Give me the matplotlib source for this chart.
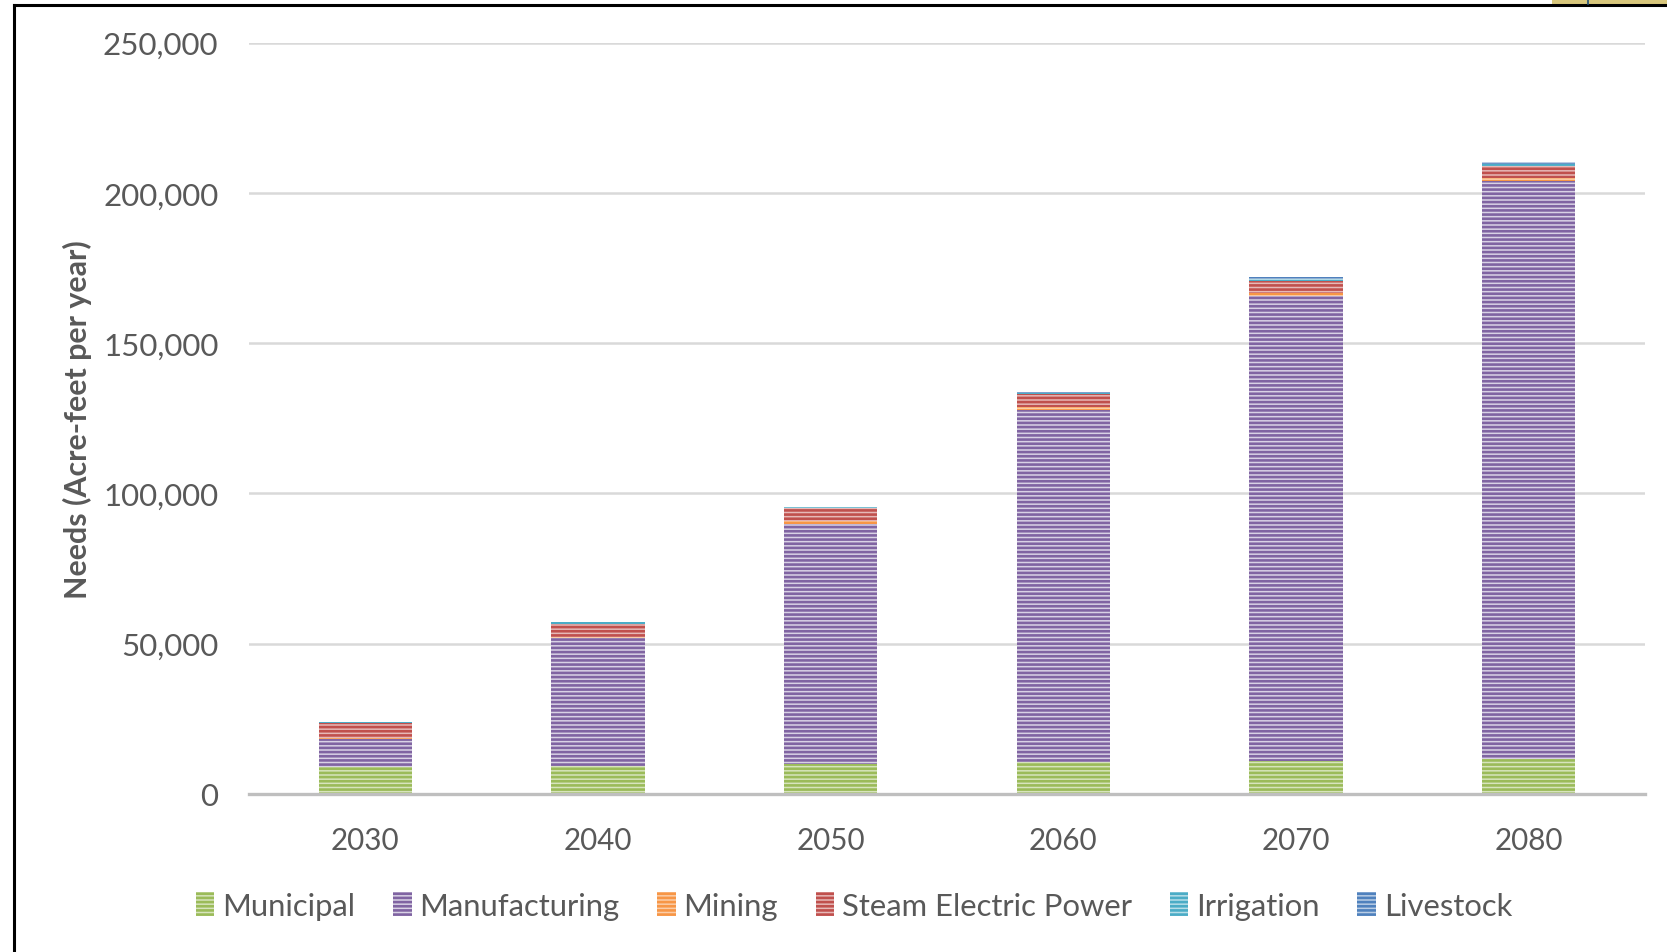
import matplotlib
matplotlib.use("Agg")
import matplotlib.pyplot as plt
from matplotlib.patches import Rectangle
from matplotlib.lines import Line2D
import numpy as np

years = ["2030", "2040", "2050", "2060", "2070", "2080"]
municipal = [9100, 9400, 9950, 10600, 10940, 11490]
manufacturing = [9300, 42600, 79780, 117260, 154640, 192360]
mining = [300, 400, 1000, 800, 1100, 1100]
steam_electric = [4800, 4300, 4300, 4430, 4100, 4100]
irrigation = [350, 500, 550, 300, 600, 500]
livestock = [50, 100, 50, 260, 500, 600]

series_names = ["Municipal", "Manufacturing", "Mining", "Steam Electric Power",
                "Irrigation", "Livestock"]
series_values = [municipal, manufacturing, mining, steam_electric, irrigation, livestock]
dark_colors = ["#9BBB59", "#8064A2", "#F79646", "#C0504D", "#4BACC6", "#4F81BD"]
light_colors = ["#D7E4BD", "#D9D2E5", "#FBCDA8", "#E6B9B8", "#B7DEE8", "#B9CDE5"]

plt.rcParams['font.family'] = ['Lato', 'DejaVu Sans']
plt.rcParams['hatch.linewidth'] = 1.9

fig = plt.figure(figsize=(16.67, 9.53), dpi=100)
ax = fig.add_axes([249/1667, 1-795/953, (1645-249)/1667, (795-43.6)/953])

x = np.arange(len(years))
bottom = np.zeros(len(years))
handles = []
for name, vals, dc, lc in zip(series_names, series_values, dark_colors, light_colors):
    v = np.array(vals, dtype=float)
    ax.bar(x, v, width=0.40, bottom=bottom, color=lc, edgecolor=dc,
           hatch='----', linewidth=0, zorder=3)
    bottom += v
    handles.append(Rectangle((0, 0), 1, 1, facecolor=lc, edgecolor=dc,
                             hatch='----', linewidth=0))

ax.set_xlim(-0.5, len(years) - 0.5)
ax.set_ylim(0, 250000)
ax.set_yticks(np.arange(0, 250001, 50000))
ax.set_yticklabels([f"{int(t):,}" for t in np.arange(0, 250001, 50000)])
ax.set_xticks(x)
ax.set_xticklabels(years)

ax.grid(axis='y', color='#D9D9D9', linewidth=1.8, zorder=0)
ax.set_axisbelow(True)
for s in ['top', 'right', 'left']:
    ax.spines[s].set_visible(False)
ax.spines['bottom'].set_color('#BFBFBF')
ax.spines['bottom'].set_linewidth(2.4)
ax.spines['bottom'].set_zorder(4)
ax.tick_params(axis='both', length=0, colors='#595959')
ax.tick_params(axis='y', pad=22, labelsize=22.5)
ax.tick_params(axis='x', pad=23, labelsize=21.3)

fig.text(77/1667, 1-420/953, "Needs (Acre-feet per year)", rotation=90,
         ha='center', va='center', fontsize=21.9, fontweight='bold', color='#595959')

leg = fig.legend(handles, series_names, loc='center', ncol=6,
                 bbox_to_anchor=(854/1667, 1-907/953), frameon=False, fontsize=22.3,
                 handlelength=0.6, handleheight=0.8, handletextpad=0.25,
                 columnspacing=1.22, labelcolor='#595959')

# outer frame elements
fig.add_artist(Line2D([14/1667, 14/1667], [0, 1-6/953], transform=fig.transFigure,
                      color='black', linewidth=2.2))
fig.add_artist(Line2D([14/1667, 1], [1-6/953, 1-6/953], transform=fig.transFigure,
                      color='black', linewidth=2.2))
fig.add_artist(Rectangle((1552/1667, 1-4.5/953), 115/1667, 4.5/953,
                         transform=fig.transFigure, facecolor='#D8C77C',
                         edgecolor='none'))
fig.add_artist(Line2D([1588/1667, 1588/1667], [1-5/953, 1], transform=fig.transFigure,
                      color='#1F4E79', linewidth=1.2))

fig.savefig("out.png", dpi=100)
